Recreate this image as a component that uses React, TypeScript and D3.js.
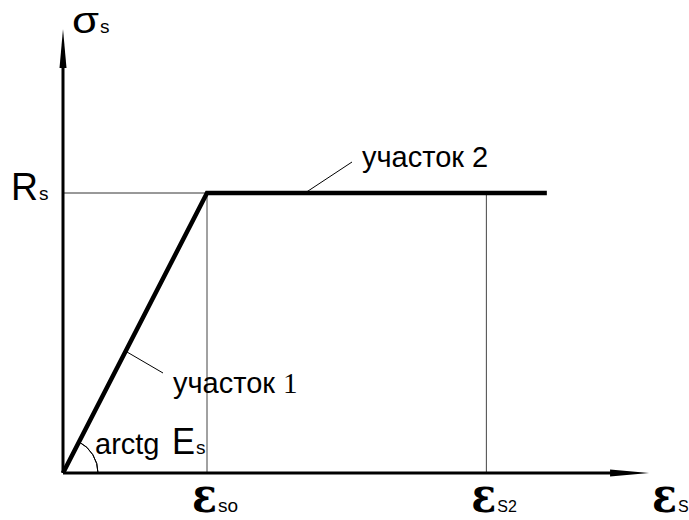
import React from 'react';
import * as d3 from 'd3';

// stress-strain diagram, values in relative units (eps_s0 = 1, Rs = 1)
const curveStrain = [0, 1, 3.36];
const curveStress = [0, 1, 1];
const guideStrain = [1, 2.94];
const guideLabels = ['so', 'S2'];
const axisMaxStrain = 4.07;
const axisMaxStress = 1.586;

const W = 689;
const H = 520;
const x0 = 63;
const y0 = 473;

const xScale = d3.scaleLinear().domain([0, 1]).range([x0, 207]);
const yScale = d3.scaleLinear().domain([0, 1]).range([y0, 193]);

const sans = '"Liberation Sans", Arial, sans-serif';
const epsFont = '"DejaVu Serif", "Liberation Serif", serif';

// main symbol (stretched to a fixed width) with a small subscript after it
const Sym = ({ x, y, ch, size, len, sub, subSize, font = sans, bold = false, sy = 1 }: any) => (
	<g>
		<text transform={`translate(${x},${y}) scale(1,${sy})`} fontFamily={font} fontSize={size}
			fontWeight={bold ? 'bold' : 'normal'} textLength={len} lengthAdjust="spacingAndGlyphs">{ch}</text>
		<text x={x + len + 1} y={y} fontFamily={sans} fontSize={subSize}>{sub}</text>
	</g>
);

const App = () => {
	const pts: [number, number][] = curveStrain.map((s, i) => [xScale(s), yScale(curveStress[i])]);
	const line = d3.line();
	const xEnd = xScale(axisMaxStrain);
	const yEnd = yScale(axisMaxStress);
	const slope = Math.atan2(y0 - yScale(1), xScale(1) - x0);
	const r = 35;
	const arc = d3.arc()({
		innerRadius: r, outerRadius: r,
		startAngle: Math.PI / 2 - slope, endAngle: Math.PI / 2
	} as any);

	return (
		<svg width={W} height={H} style={{ position: 'absolute', left: 0, top: 0, background: '#fff' }}>
			{/* thin guides */}
			<line x1={x0} x2={xScale(1)} y1={yScale(1)} y2={yScale(1)} stroke="#333" strokeWidth={1} />
			{guideStrain.map((s) => (
				<line key={s} x1={xScale(s)} x2={xScale(s)} y1={yScale(1)} y2={y0} stroke="#444" strokeWidth={1} />
			))}
			{/* axes */}
			<line x1={x0} y1={y0} x2={x0} y2={yEnd + 30} stroke="#000" strokeWidth={3} />
			<polygon points={`${x0},${yEnd} ${x0 - 3.5},${yEnd + 39} ${x0 + 3.5},${yEnd + 39}`} fill="#000" />
			<line x1={x0} y1={y0} x2={xEnd - 30} y2={y0} stroke="#000" strokeWidth={3} />
			<polygon points={`${xEnd},${y0} ${xEnd - 39},${y0 - 3.5} ${xEnd - 39},${y0 + 3.5}`} fill="#000" />
			{/* angle arc */}
			<path d={arc || ''} transform={`translate(${x0},${y0})`} fill="none" stroke="#000" strokeWidth={1} />
			{/* curve */}
			<path d={line(pts) || ''} fill="none" stroke="#000" strokeWidth={4.5} strokeLinejoin="miter" />
			{/* leaders */}
			<line x1={127} y1={352} x2={163} y2={373} stroke="#000" strokeWidth={1} />
			<line x1={305} y1={193} x2={352} y2={162} stroke="#000" strokeWidth={1} />
			{/* labels */}
			<text x={362} y={167} fontFamily={sans} fontSize={29}>участок 2</text>
			<text x={173} y={393} fontFamily={sans} fontSize={29}>участок <tspan fontFamily='"Liberation Serif", serif'>1</tspan></text>
			<text x={95} y={454} fontFamily={sans} fontSize={29}>arctg</text>
			<Sym x={172} y={454} ch="E" size={36} len={23} sub="s" subSize={19} />
			<Sym x={72} y={33} ch="σ" size={36} len={27} sub="s" subSize={19} />
			<Sym x={11} y={200} ch="R" size={38} len={27} sub="s" subSize={19} />
			{guideStrain.map((s, i) => (
				<Sym key={s} x={xScale(s) - 15} y={512} ch="ε" size={38} sy={1.3} len={25} bold font={epsFont}
					sub={guideLabels[i]} subSize={i === 0 ? 19 : 16} />
			))}
			<Sym x={652} y={512} ch="ε" size={38} sy={1.3} len={25} bold font={epsFont} sub="S" subSize={16} />
		</svg>
	);
};

export default App;
